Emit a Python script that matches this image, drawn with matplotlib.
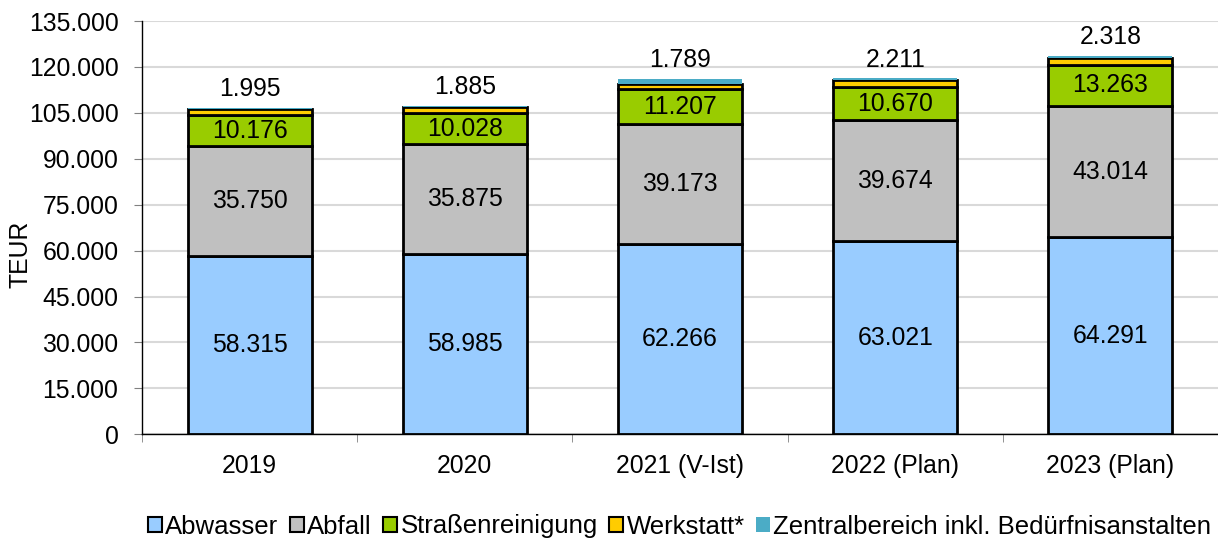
import numpy as np
import matplotlib
matplotlib.use("Agg")
import matplotlib.pyplot as plt
from matplotlib.patches import Patch

plt.rcParams['font.family'] = ['Liberation Sans', 'DejaVu Sans']

# data (TEUR)
years = ["2019", "2020", "2021 (V-Ist)", "2022 (Plan)", "2023 (Plan)"]
abwasser = [58315, 58985, 62266, 63021, 64291]
abfall = [35750, 35875, 39173, 39674, 43014]
strassen = [10176, 10028, 11207, 10670, 13263]
werkstatt = [1995, 1885, 1789, 2211, 2318]
zentral = [450, 400, 1500, 650, 800]  # estimated, not labelled

series_names = ["Abwasser", "Abfall", "Straßenreinigung", "Werkstatt*",
                "Zentralbereich inkl. Bedürfnisanstalten"]
colors = ["#99CCFF", "#C0C0C0", "#99CC00", "#FFCC00", "#4BACC6"]

FS = 17.8


def fmt(v):
    return f"{v:,}".replace(",", ".")


fig = plt.figure(figsize=(12.18, 5.4), dpi=100)
ax = fig.add_axes([0.1166, 0.1957, 0.8834, 0.7654])

x = np.arange(len(years))
width = 0.576
bottom = np.zeros(len(years))
stack = [abwasser, abfall, strassen, werkstatt, zentral]
for i, (vals, c) in enumerate(zip(stack, colors)):
    vals = np.array(vals, dtype=float)
    ec = "black" if i < 4 else c
    lw = 2.0 if i < 4 else 0.0
    ax.bar(x, vals, width, bottom=bottom, color=c, edgecolor=ec, linewidth=lw, zorder=3)
    if i < 3:
        for xi, b, v in zip(x, bottom, vals):
            ax.text(xi, b + v / 2, fmt(int(v)), ha="center", va="center", fontsize=FS, zorder=4)
    bottom += vals

# Werkstatt values written above the bar
for xi, top, v in zip(x, bottom, werkstatt):
    ax.annotate(fmt(v), (xi, top), xytext=(0, 5), textcoords="offset points",
                ha="center", va="bottom", fontsize=FS)

ax.set_xlim(-0.5, len(years) - 0.5)
ax.set_ylim(0, 135000)
yt = np.arange(0, 135001, 15000)
ax.set_yticks(yt)
ax.set_yticklabels([fmt(int(v)) for v in yt], fontsize=FS)
ax.yaxis.grid(True, color="#D9D9D9", linewidth=1.5, zorder=0)
ax.set_axisbelow(True)

ax.set_xticks(x)
ax.set_xticklabels(years, fontsize=FS)
ax.set_xticks(np.arange(-0.5, len(years)), minor=True)
ax.tick_params(axis="x", which="major", length=0, pad=14)
ax.tick_params(axis="x", which="minor", length=6, color="#808080", direction="out")
ax.tick_params(axis="y", length=6, color="#808080", direction="out", pad=11)

for s in ["top", "right"]:
    ax.spines[s].set_visible(False)
ax.spines["left"].set_color("black")
ax.spines["bottom"].set_color("black")
ax.spines["left"].set_linewidth(1.0)
ax.spines["bottom"].set_linewidth(1.0)

ax.set_ylabel("TEUR", fontsize=FS)
ax.yaxis.set_label_coords(-0.1022, 0.436)

handles = []
for i, (n, c) in enumerate(zip(series_names, colors)):
    if i < 4:
        handles.append(Patch(facecolor=c, edgecolor="black", linewidth=1.5, label=n))
    else:
        handles.append(Patch(facecolor=c, edgecolor=c, linewidth=0, label=n))
fig.legend(handles=handles, loc="center", bbox_to_anchor=(0.558, 0.025), ncol=5,
           frameon=False, fontsize=18.5, handlelength=0.55, handleheight=0.55,
           handletextpad=0.12, columnspacing=0.45, borderpad=0.1)

fig.savefig("out.png", dpi=100)
